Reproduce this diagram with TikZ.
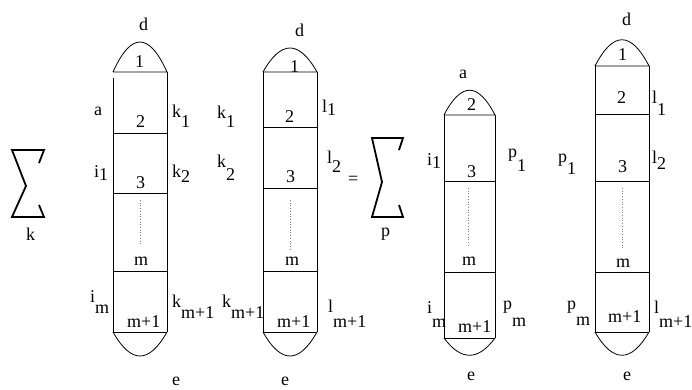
\documentclass[tikz,border=0pt]{standalone}
\usepackage{fontspec}
\setmainfont{Liberation Serif}
\newcommand\lowr[2]{\raisebox{-#1pt}{#2}}
\tikzset{
  lab/.style={anchor=base west, inner sep=0pt, font=\fontsize{18}{20}\selectfont},
  box/.style={line width=0.8pt},
  sig/.style={line width=1.8pt, line join=miter},
  dots/.style={dotted, gray, line width=0.7pt}
}
\begin{document}
\begin{tikzpicture}[x=1pt,y=-1pt]
\useasboundingbox (0,0) rectangle (692,389);
% ---------- sigma 1 ----------
\draw[sig] (39,163) -- (44,150) -- (12,150) -- (26,186) -- (12,217) -- (44,217) -- (39,205);
\node[lab] (sk) at (26,240) {k};
% ---------- column 1 ----------
\draw[box] (113,72) .. controls (131,32) and (149,32) .. (167,72) -- (113,72);
\draw[box] (113,78) -- (113,332);
\draw[box] (167,72) -- (167,332);
\draw[box] (113,133) -- (167,133);
\draw[box] (113,193) -- (167,193);
\draw[box] (113,271) -- (167,271);
\draw[box] (113,332) -- (167,332);
\draw[box] (113,332) .. controls (131,364) and (149,364) .. (167,332);
\draw[dots] (140,200) -- (140,245);
\node[lab] (c1d) at (139,30) {d};
\node[lab] (c1one) at (135,67) {1};
\node[lab] (c1a) at (94,115) {a};
\node[lab] (c1two) at (136,127) {2};
\node[lab] (c1k1) at (172,117) {k\lowr{10}{1}};
\node[lab] (c1i1) at (94,177) {i\lowr{3}{1}};
\node[lab] (c1k2) at (172,177) {k\lowr{5}{2}};
\node[lab] (c1three) at (136,188) {3};
\node[lab] (c1m) at (134,265) {m};
\node[lab] (c1im) at (90,302) {i\lowr{11}{m}};
\node[lab] (c1mp) at (127,327) {m+1};
\node[lab] (c1km) at (172,307) {k\lowr{11}{m+1}};
\node[lab] (c1e) at (172,385) {e};
% ---------- column 2 ----------
\draw[box] (263,72) .. controls (281,40) and (299,40) .. (317,72) -- (263,72);
\draw[box] (263,72) -- (263,332);
\draw[box] (317,72) -- (317,332);
\draw[box] (263,127) -- (317,127);
\draw[box] (263,188) -- (317,188);
\draw[box] (263,271) -- (317,271);
\draw[box] (263,332) -- (317,332);
\draw[box] (263,332) .. controls (281,364) and (299,364) .. (317,332);
\draw[dots] (290,200) -- (290,250);
\node[lab] (c2d) at (295,36) {d};
\node[lab] (c2one) at (290,72) {1};
\node[lab] (c2k1) at (217,118) {k\lowr{9}{1}};
\node[lab] (c2l1) at (322,112) {l\lowr{3}{1}};
\node[lab] (c2two) at (285,122) {2};
\node[lab] (c2k2) at (217,167) {k\lowr{13}{2}};
\node[lab] (c2l2) at (327,163) {l\lowr{9}{2}};
\node[lab] (c2three) at (286,182) {3};
\node[lab] (eq) at (348,184) {=};
\node[lab] (c2m) at (285,265) {m};
\node[lab] (c2km) at (222,307) {k\lowr{11}{m+1}};
\node[lab] (c2mp) at (277,327) {m+1};
\node[lab] (c2lm) at (328,312) {l\lowr{15}{m+1}};
\node[lab] (c2e) at (281,385) {e};
% ---------- sigma 2 ----------
\draw[sig] (399,150) -- (403,138) -- (372,138) -- (382,182) -- (372,217) -- (403,217) -- (399,205);
\node[lab] (sp) at (381,236) {p};
% ---------- column 3 ----------
\draw[box] (444,115) .. controls (461,82) and (478,82) .. (495,115) -- (444,115);
\draw[box] (444,115) -- (444,338);
\draw[box] (495,115) -- (495,338);
\draw[box] (444,181) -- (495,181);
\draw[box] (444,272) -- (495,272);
\draw[box] (444,338) -- (495,338);
\draw[box] (444,338) .. controls (461,361) and (478,361) .. (495,338);
\draw[dots] (468,188) -- (468,247);
\node[lab] (c3a) at (459,78) {a};
\node[lab] (c3two) at (467,110) {2};
\node[lab] (c3i1) at (427,165) {i\lowr{3}{1}};
\node[lab] (c3three) at (467,177) {3};
\node[lab] (c3p1) at (508,157) {p\lowr{14}{1}};
\node[lab] (c3m) at (462,265) {m};
\node[lab] (c3im) at (427,313) {i\lowr{14}{m}};
\node[lab] (c3mp) at (458,332) {m+1};
\node[lab] (c3pm) at (503,309) {p\lowr{17}{m}};
\node[lab] (c3e) at (467,380) {e};
% ---------- column 4 ----------
\draw[box] (595,66) .. controls (613,31) and (631,31) .. (649,66) -- (595,66);
\draw[box] (595,66) -- (595,332);
\draw[box] (649,66) -- (649,332);
\draw[box] (595,114) -- (649,114);
\draw[box] (595,181) -- (649,181);
\draw[box] (595,272) -- (649,272);
\draw[box] (595,332) -- (649,332);
\draw[box] (595,332) .. controls (613,363) and (631,363) .. (649,332);
\draw[dots] (622,188) -- (622,250);
\node[lab] (c4d) at (622,25) {d};
\node[lab] (c4one) at (618,60) {1};
\node[lab] (c4two) at (617,103) {2};
\node[lab] (c4l1) at (652,103) {l\lowr{12}{1}};
\node[lab] (c4p1) at (558,162) {p\lowr{12}{1}};
\node[lab] (c4three) at (618,172) {3};
\node[lab] (c4l2) at (652,163) {l\lowr{6}{2}};
\node[lab] (c4m) at (616,267) {m};
\node[lab] (c4pm) at (567,309) {p\lowr{16}{m}};
\node[lab] (c4mp) at (608,322) {m+1};
\node[lab] (c4lm) at (654,313) {l\lowr{14}{m+1}};
\node[lab] (c4e) at (623,380) {e};
\end{tikzpicture}
\end{document}
